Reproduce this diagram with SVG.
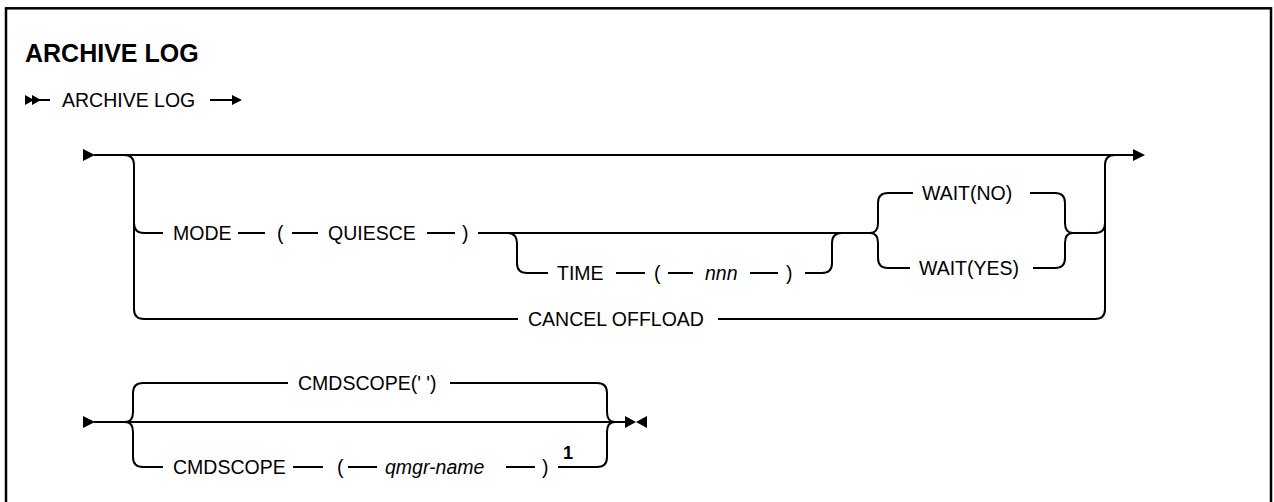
<svg xmlns="http://www.w3.org/2000/svg" width="1274" height="502" viewBox="0 0 1274 502">
<style>
.t{font-family:"Liberation Sans",Arial,sans-serif;font-size:19.5px;fill:#000}
.i{font-style:italic}
.h{font-family:"Liberation Sans",Arial,sans-serif;font-size:25px;font-weight:bold;fill:#000}
.sup{font-family:"Liberation Sans",Arial,sans-serif;font-size:18px;font-weight:bold;fill:#000}
.ln{fill:none;stroke:#000;stroke-width:2}
.ah{fill:#000;stroke:none}
</style>
<rect x="6" y="8.3" width="1265" height="520" fill="#fff" stroke="#000" stroke-width="2.5"/>
<g id="title"><text class="h" x="25" y="61.5">ARCHIVE LOG</text></g>
<g id="cmd"><text class="t" x="62" y="107">ARCHIVE LOG</text></g>
<g id="mode"><text class="t" x="173" y="240">MODE</text></g>
<g id="lp1"><text class="t" x="277" y="240">(</text></g>
<g id="quiesce"><text class="t" x="328" y="240">QUIESCE</text></g>
<g id="rp1"><text class="t" x="462" y="240">)</text></g>
<g id="time"><text class="t" x="557" y="280">TIME</text></g>
<g id="lp2"><text class="t" x="654" y="280">(</text></g>
<g id="nnn"><text class="t i" x="705" y="280">nnn</text></g>
<g id="rp2"><text class="t" x="786" y="280">)</text></g>
<g id="waitno"><text class="t" x="922" y="200">WAIT(NO)</text></g>
<g id="waityes"><text class="t" x="919" y="275">WAIT(YES)</text></g>
<g id="cancel"><text class="t" x="528" y="326">CANCEL OFFLOAD</text></g>
<g id="cmdscope-default"><text class="t" x="298" y="390">CMDSCOPE(' ')</text></g>
<g id="cmdscope"><text class="t" x="173" y="474">CMDSCOPE</text></g>
<g id="lp3"><text class="t" x="337" y="474">(</text></g>
<g id="qmgr"><text class="t i" x="385" y="474">qmgr-name</text></g>
<g id="rp3"><text class="t" x="542" y="474">)</text></g>
<g id="note1"><text class="sup" x="563" y="459">1</text></g>
<g id="connectors">
<polygon class="ah" points="25,95 34,100 25,105"/>
<polygon class="ah" points="32,95 41,100 32,105"/>
<path class="ln" d="M38 100H50M210 100H233"/>
<polygon class="ah" points="232,95 242,100 232,105"/>
<polygon class="ah" points="83,149 95,155 83,161"/>
<path class="ln" d="M94 155H1134"/>
<polygon class="ah" points="1133,149 1145,155 1133,161"/>
<path class="ln" d="M124 155q10 0 10 10V309q0 10 10 10H518M718 319H1095q10 0 10-10V165q0-10 10-10"/>
<path class="ln" d="M134 223q0 10 10 10H163M238 233H265M292 233H318M427 233H455M478 233H870M1073 233H1095q10 0 10-10"/>
<path class="ln" d="M507 233q10 0 10 10V263q0 10 10 10H548M616 273H645M668 273H693M750 273H778M805 273H822q10 0 10-10V243q0-10 10-10"/>
<path class="ln" d="M870 233q8 0 8-10V203q0-10 10-10H913M1030 193H1055q10 0 10 10V223q0 10 8 10"/>
<path class="ln" d="M870 233q8 0 8 10V258q0 10 10 10H910M1033 268H1055q10 0 10-10V243q0-10 8-10"/>
<polygon class="ah" points="83,416 95,422 83,428"/>
<path class="ln" d="M94 422H625"/>
<path class="ln" d="M125 422q8 0 8-10V393q0-10 10-10H288M450 383H597q10 0 10 10V412q0 10 8 10"/>
<path class="ln" d="M125 422q8 0 8 10V457q0 10 10 10H163M293 467H323M348 467H377M506 467H535M558 467H597q10 0 10-10V432q0-10 8-10"/>
<polygon class="ah" points="625,416 636,422 625,428"/>
<polygon class="ah" points="647,416 636,422 647,428"/>
</g>
</svg>
